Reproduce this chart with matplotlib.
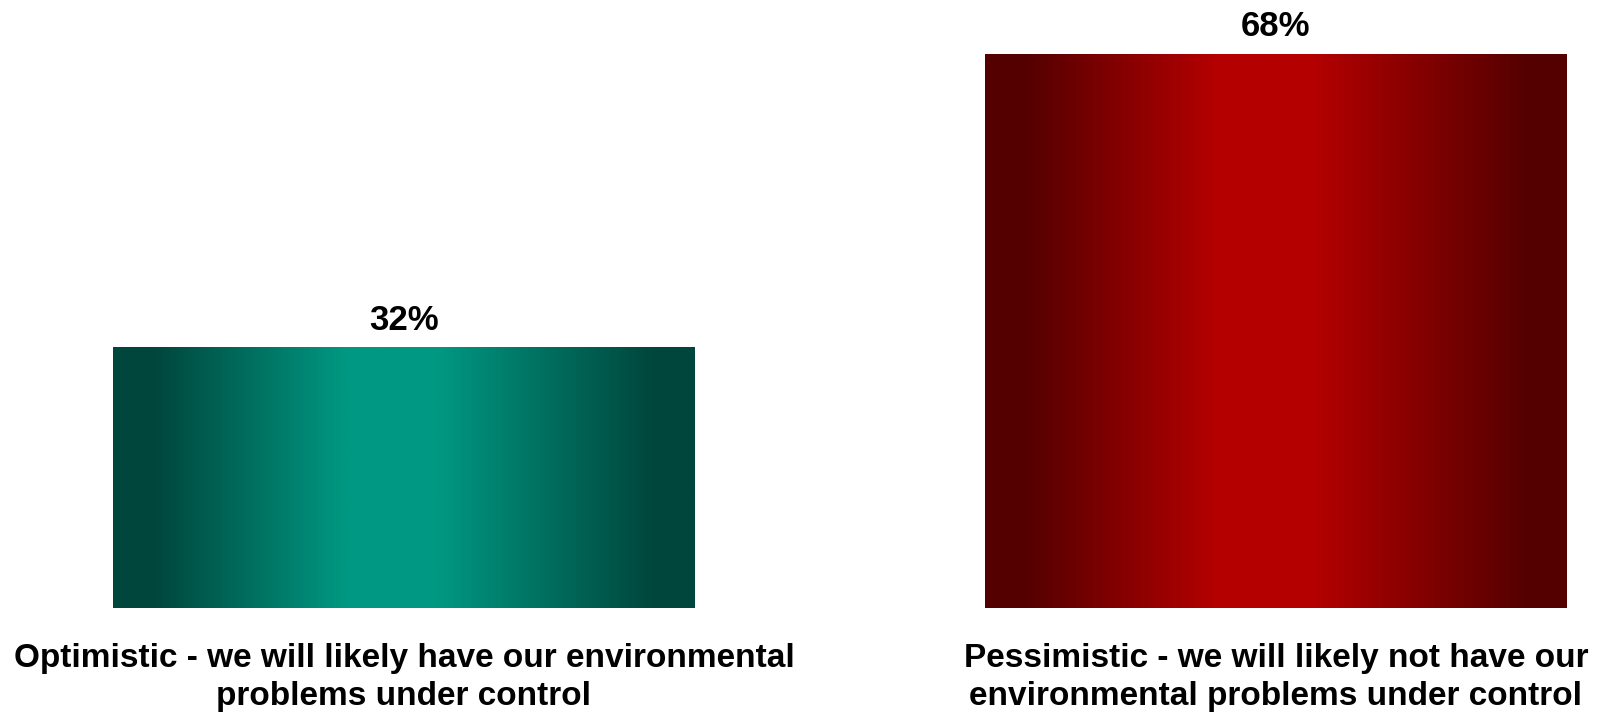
import matplotlib.pyplot as plt
import numpy as np
from matplotlib.colors import LinearSegmentedColormap

categories = [
    "Optimistic - we will likely have our environmental\nproblems under control",
    "Pessimistic - we will likely not have our\nenvironmental problems under control",
]
values = [32, 68]
dark_colors = ["#00463c", "#550000"]
light_colors = ["#009882", "#b50000"]

plt.rcParams["font.family"] = ["Liberation Sans", "DejaVu Sans"]

fig = plt.figure(figsize=(16, 7.15), dpi=100)
ax = fig.add_axes([0, (715 - 608) / 715, 1, (608 - 54) / 715])

width = 582 / 872
x = np.arange(len(values))
ax.set_xlim(-404 / 872, (1600 - 404) / 872)
ax.set_ylim(0, 68)

# horizontal gradient used to fill each bar
grad = np.linspace(0, 1, 256).reshape(1, -1)
for xi, v, dc, lc in zip(x, values, dark_colors, light_colors):
    cmap = LinearSegmentedColormap.from_list(
        "g", [(0, dc), (0.07, dc), (0.40, lc), (0.56, lc), (0.93, dc), (1, dc)])
    ax.bar(xi, v, width=width, color="none", edgecolor="none")
    ax.imshow(grad, cmap=cmap, aspect="auto", interpolation="bilinear",
              extent=(xi - width / 2, xi + width / 2, 0, v), zorder=2)
    ax.text(xi, v + 1.3, f"{v}%", ha="center", va="bottom", fontsize=25,
            fontweight="bold", clip_on=False)

ax.set_xticks(x)
ax.set_xticklabels(categories, fontsize=24, fontweight="bold", linespacing=1.32)
ax.tick_params(axis="x", length=0, pad=25)
ax.set_yticks([])
for s in ax.spines.values():
    s.set_visible(False)

fig.savefig("out.png", dpi=100, facecolor="white")
